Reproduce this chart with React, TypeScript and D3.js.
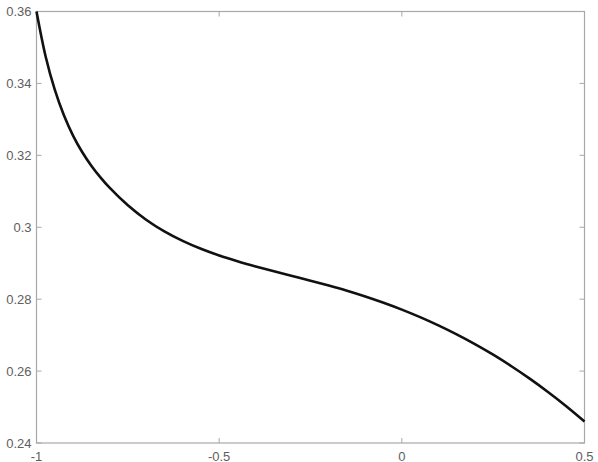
import React, { useEffect, useRef } from "react";
import * as d3 from "d3";

// values
const xs = [
  -1.0, -0.975, -0.95, -0.925, -0.9, -0.875, -0.85, -0.825, -0.8, -0.75, -0.7,
  -0.65, -0.6, -0.55, -0.5, -0.45, -0.4, -0.35, -0.3, -0.25, -0.2, -0.15, -0.1,
  -0.05, 0.0, 0.05, 0.1, 0.15, 0.2, 0.25, 0.3, 0.35, 0.4, 0.45, 0.5,
];
const ys = [
  0.36, 0.3475, 0.33825, 0.33113, 0.3255, 0.32093, 0.31713, 0.31388, 0.311,
  0.3061, 0.3021, 0.29885, 0.2962, 0.294, 0.29215, 0.29055, 0.2891, 0.28775,
  0.28645, 0.28515, 0.2838, 0.28235, 0.28075, 0.279, 0.2771, 0.275, 0.2727,
  0.2702, 0.2675, 0.26455, 0.26135, 0.2579, 0.2542, 0.25025, 0.246,
];
const xTicks = [-1, -0.5, 0, 0.5];
const yTicks = [0.24, 0.26, 0.28, 0.3, 0.32, 0.34, 0.36];

export default function App() {
  const ref = useRef<SVGSVGElement>(null);
  const width = 598;
  const height = 462;
  const margin = { top: 11.5, right: 13.5, bottom: 19, left: 36.5 };

  useEffect(() => {
    const svg = d3.select(ref.current);
    svg.selectAll("*").remove();

    const x = d3
      .scaleLinear()
      .domain([-1, 0.5])
      .range([margin.left, width - margin.right]);
    const y = d3
      .scaleLinear()
      .domain([0.24, 0.36])
      .range([height - margin.bottom, margin.top]);

    const axisColor = "#a8a8a8";
    const textColor = "#5e5e5e";
    const tickLen = 5;

    // box
    svg
      .append("rect")
      .attr("x", x(-1))
      .attr("y", y(0.36))
      .attr("width", x(0.5) - x(-1))
      .attr("height", y(0.24) - y(0.36))
      .attr("fill", "none")
      .attr("stroke", axisColor)
      .attr("stroke-width", 1.2);

    // ticks, inward on all four sides
    const g = svg.append("g").attr("stroke", axisColor).attr("stroke-width", 1);
    xTicks.forEach((t) => {
      g.append("line")
        .attr("x1", x(t)).attr("x2", x(t))
        .attr("y1", y(0.24)).attr("y2", y(0.24) - tickLen);
      g.append("line")
        .attr("x1", x(t)).attr("x2", x(t))
        .attr("y1", y(0.36)).attr("y2", y(0.36) + tickLen);
    });
    yTicks.forEach((t) => {
      g.append("line")
        .attr("x1", x(-1)).attr("x2", x(-1) + tickLen)
        .attr("y1", y(t)).attr("y2", y(t));
      g.append("line")
        .attr("x1", x(0.5)).attr("x2", x(0.5) - tickLen)
        .attr("y1", y(t)).attr("y2", y(t));
    });

    // tick labels
    const font = "'Liberation Sans', Arial, sans-serif";
    svg
      .selectAll(".xl")
      .data(xTicks)
      .enter()
      .append("text")
      .attr("x", (d) => x(d))
      .attr("y", height - 1.5)
      .attr("text-anchor", "middle")
      .attr("font-family", font)
      .attr("font-size", 13)
      .attr("fill", textColor)
      .text((d) => String(d));

    svg
      .selectAll(".yl")
      .data(yTicks)
      .enter()
      .append("text")
      .attr("x", x(-1) - 5)
      .attr("y", (d) => y(d))
      .attr("dy", "0.35em")
      .attr("text-anchor", "end")
      .attr("font-family", font)
      .attr("font-size", 13)
      .attr("fill", textColor)
      .text((d) => String(d));

    // curve
    const line = d3
      .line<number>()
      .x((_, i) => x(xs[i]))
      .y((d) => y(d))
      .curve(d3.curveCatmullRom.alpha(0.5));

    svg
      .append("path")
      .datum(ys)
      .attr("d", line)
      .attr("fill", "none")
      .attr("stroke", "#111")
      .attr("stroke-width", 2.6)
      .attr("stroke-linejoin", "round");
  }, []);

  return (
    <svg
      ref={ref}
      width={width}
      height={height}
      style={{ position: "absolute", left: 0, top: 0, background: "#fff" }}
    />
  );
}
